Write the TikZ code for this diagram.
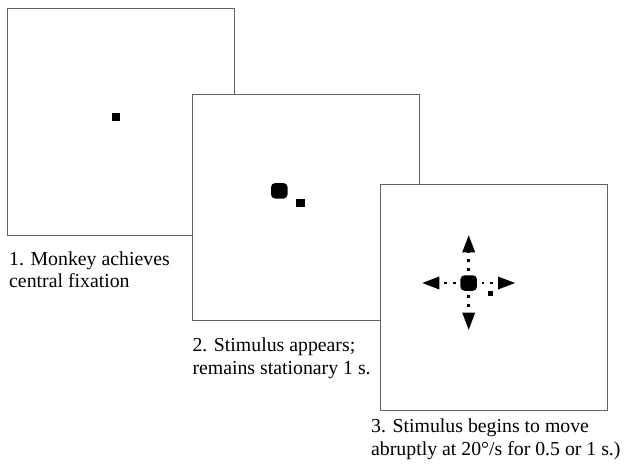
\documentclass[tikz,border=0pt]{standalone}
\usepackage{fontspec}
\setmainfont{Liberation Serif}
\usetikzlibrary{arrows.meta}
\begin{document}
\begin{tikzpicture}[x=1pt,y=-1pt,
  panel/.style={draw=black!62,line width=0.9pt,fill=white},
  fixdot/.style={fill=black,inner sep=0pt,minimum width=8.3pt,minimum height=8pt},
  smalldot/.style={fill=black,inner sep=0pt,minimum size=5.8pt},
  stimbox/.style={fill=black,inner sep=0pt,rounded corners=4pt,minimum width=16.5pt,minimum height=15.5pt},
  capline/.style={anchor=base west,inner sep=0pt,font=\fontsize{19.8}{22}\selectfont},
  dotarrow/.style={line width=2.8pt,dash pattern=on 2.8pt off 5.9pt,dash phase=4.2pt,
    -{Triangle[length=17pt,width=13pt,line width=0pt]}}]
\useasboundingbox (0,0) rectangle (625,464);
% panel 1
\draw[panel] (7.5,8.5) rectangle (234,235);
\node[fixdot] (fix1) at (116.2,116.7) {};
\node[capline] (c1a) at (9,265.7) {1. Monkey achieves};
\node[capline] (c1b) at (9,287.5) {central fixation};
% panel 2
\draw[panel] (192.5,94) rectangle (419,320);
\node[stimbox] (stim2) at (279.3,190.8) {};
\node[fixdot] (fix2) at (300.5,202.7) {};
\node[capline] (c2a) at (192.3,351) {2. Stimulus appears;};
\node[capline] (c2b) at (192.3,374) {remains stationary 1 s.};
% panel 3
\draw[panel] (380,184) rectangle (607,410);
\node[stimbox] (stim3) at (468.7,283) {};
\node[smalldot] (fix3) at (490.5,293.5) {};
\coordinate (tipU) at (468.7,235.3);
\coordinate (tipD) at (468.7,329.7);
\coordinate (tipL) at (422.3,283);
\coordinate (tipR) at (515,283);
\draw[dotarrow] (stim3.north) -- (tipU);
\draw[dotarrow] (stim3.south) -- (tipD);
\draw[dotarrow] (stim3.west) -- (tipL);
\draw[dotarrow] (stim3.east) -- (tipR);
\node[capline] (c3a) at (371,432.3) {3. Stimulus begins to move};
\node[capline] (c3b) at (371,455) {abruptly at 20°/s for 0.5 or 1 s.)};
\end{tikzpicture}
\end{document}
